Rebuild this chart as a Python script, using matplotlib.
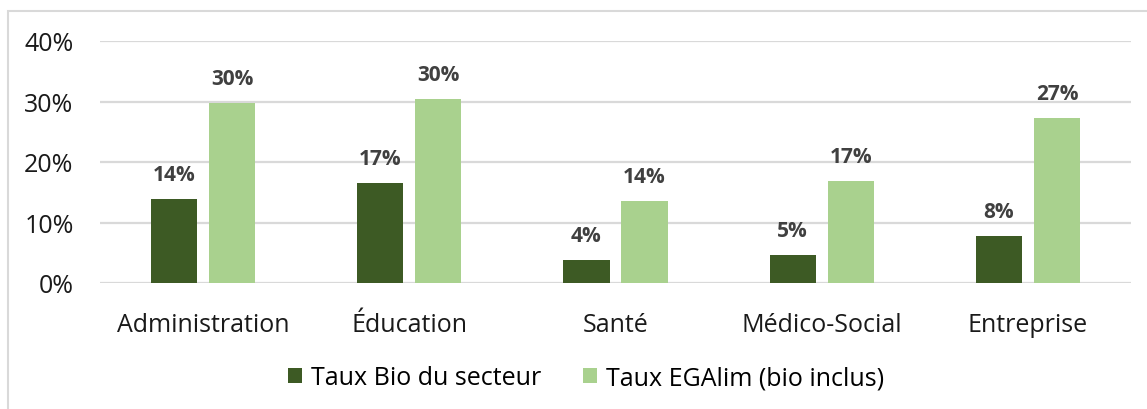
import matplotlib
matplotlib.use("Agg")
import matplotlib.pyplot as plt
import numpy as np
from matplotlib.patches import Rectangle
from matplotlib.ticker import PercentFormatter

categories = ["Administration", "Éducation", "Santé", "Médico-Social", "Entreprise"]
taux_bio = [0.139, 0.166, 0.0385, 0.047, 0.078]
taux_egalim = [0.2975, 0.304, 0.136, 0.169, 0.273]
series_names = ["Taux Bio du secteur", "Taux EGAlim (bio inclus)"]
yticks = [0, 0.1, 0.2, 0.3, 0.4]

plt.rcParams['font.family'] = ['Open Sans', 'DejaVu Sans']

fig = plt.figure(figsize=(11.47, 4.10), dpi=100)
ax = fig.add_axes([100/1147, 1-284/410, 1031/1147, 242/410])

x = np.arange(len(categories))
w = 0.224
off = 0.141
c_dark = "#3D5A24"
c_light = "#A9D18E"
b1 = ax.bar(x - off, taux_bio, w, color=c_dark, label=series_names[0], zorder=3)
b2 = ax.bar(x + off, taux_egalim, w, color=c_light, label=series_names[1], zorder=3)

for bars, vals in ((b1, taux_bio), (b2, taux_egalim)):
    for r, v in zip(bars, vals):
        ax.annotate(f"{v:.0%}", (r.get_x() + r.get_width()/2, v),
                    xytext=(0, 10), textcoords="offset points",
                    ha="center", va="bottom", fontsize=15, fontweight="bold",
                    color="#404040")

ax.set_ylim(0, 0.4)
ax.set_xlim(-0.5, len(categories) - 0.5)
ax.set_yticks(yticks)
ax.yaxis.set_major_formatter(PercentFormatter(1.0, decimals=0))
ax.set_xticks(x)
ax.set_xticklabels(categories)
ax.tick_params(axis="both", length=0, labelsize=18, colors="#1a1a1a")
ax.tick_params(axis="y", pad=19)
ax.tick_params(axis="x", pad=21)
ax.grid(axis="y", color="#d9d9d9", linewidth=1.6, zorder=0)
for s in ax.spines.values():
    s.set_visible(False)

leg = fig.legend(loc="center", bbox_to_anchor=(586/1147, 1-379/410), ncol=2,
                 frameon=False, fontsize=18, handlelength=0.55, handleheight=0.55,
                 handletextpad=0.35, columnspacing=1.7)

fig.patches.append(Rectangle((8/1147, -0.2), 1.2, 1.2 - 12/410, transform=fig.transFigure,
                             fill=False, edgecolor="#d9d9d9", linewidth=1.5))

fig.savefig("out.png", dpi=100)
